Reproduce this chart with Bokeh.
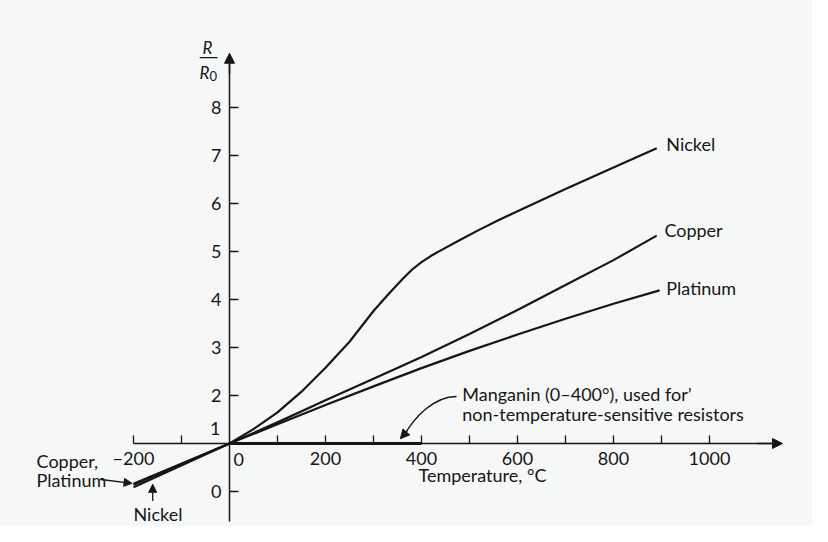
from bokeh.plotting import figure
from bokeh.models import LinearAxis, FixedTicker, Arrow, NormalHead, Label
from bokeh.embed import file_html
from bokeh.resources import INLINE

# ---- data ----
nickel_t = [-200, 0, 50, 100, 150, 200, 250, 300, 330, 360, 380, 400, 420, 445, 480, 520, 560, 600, 700, 800, 890]
nickel_r = [0.09, 1.0, 1.3, 1.65, 2.08, 2.58, 3.12, 3.76, 4.1, 4.42, 4.62, 4.78, 4.91, 5.05, 5.24, 5.45, 5.65, 5.84, 6.3, 6.75, 7.15]

copper_t = [-200, 0, 100, 200, 300, 398, 500, 600, 700, 800, 890]
copper_r = [0.14, 1.0, 1.44, 1.9, 2.35, 2.79, 3.28, 3.78, 4.3, 4.82, 5.33]

platinum_t = [-200, 0, 100, 200, 300, 400, 500, 600, 700, 800, 896]
platinum_r = [0.16, 1.0, 1.4, 1.8, 2.19, 2.57, 2.93, 3.27, 3.6, 3.91, 4.19]

manganin_t = [0, 400]
manganin_r = [1.0, 1.0]

x_ticks = [-200, -100, 100, 200, 300, 400, 500, 600, 700, 800, 900, 1000]
x_tick_labels = {-200: "\u2212200", 200: "200", 400: "400", 600: "600", 800: "800", 1000: "1000"}
y_ticks = [0, 2, 3, 4, 5, 6, 7, 8]

INK = "#161616"
BG = "#f6f7f7"
FONT = "Lato"

W, H = 812, 526
OFF = 0  # page offset of the figure as observed
# pixel mapping: x=0 at page px 229, 0.48 px/deg ; y=0 at page px 491, 48 px/unit
x0 = (OFF - 229) / 0.48
x1 = (OFF + W - 229) / 0.48
y1 = (491 - OFF) / 48
y0 = (491 - (OFF + H)) / 48

p = figure(width=W, height=H, x_range=(x0, x1), y_range=(y0, y1),
           x_axis_type=None, y_axis_type=None, min_border=0,
           output_backend="svg", toolbar_location=None)
p.outline_line_color = None
p.background_fill_color = BG
p.border_fill_color = BG

labels_override = {t: x_tick_labels.get(t, "") for t in x_ticks}
xaxis = LinearAxis(fixed_location=1, ticker=FixedTicker(ticks=x_ticks),
                   major_label_overrides=labels_override, bounds=(-200, 1145))
xaxis.major_tick_in = 8
xaxis.major_tick_out = 0
xaxis.minor_tick_in = 0
xaxis.minor_tick_out = 0
xaxis.major_label_standoff = 8
xaxis.major_label_text_font = FONT
xaxis.major_label_text_font_size = "18px"
xaxis.major_label_text_color = INK
xaxis.axis_line_color = INK
xaxis.axis_line_width = 1.5
xaxis.major_tick_line_color = INK
xaxis.major_tick_line_width = 1.3
p.add_layout(xaxis, "below")

yaxis = LinearAxis(fixed_location=0, ticker=FixedTicker(ticks=y_ticks), bounds=(-0.62, 9.0))
yaxis.major_tick_in = 9
yaxis.major_tick_out = 0
yaxis.minor_tick_in = 0
yaxis.minor_tick_out = 0
yaxis.major_label_standoff = 8
yaxis.major_label_text_font = FONT
yaxis.major_label_text_font_size = "18px"
yaxis.major_label_text_color = INK
yaxis.axis_line_color = INK
yaxis.axis_line_width = 1.5
yaxis.major_tick_line_color = INK
yaxis.major_tick_line_width = 1.3
p.add_layout(yaxis, "left")

# axis arrowheads
p.add_layout(Arrow(end=NormalHead(size=10, fill_color=INK, line_color=INK),
                   x_start=1100, y_start=1, x_end=1152, y_end=1, line_color=INK, line_width=1.5))
p.add_layout(Arrow(end=NormalHead(size=10, fill_color=INK, line_color=INK),
                   x_start=0, y_start=8.7, x_end=0, y_end=9.13, line_color=INK, line_width=1.5))

# curves
for t, r in [(nickel_t, nickel_r), (copper_t, copper_r), (platinum_t, platinum_r)]:
    p.line(t, r, line_color=INK, line_width=2.2, line_join="round")
p.line(manganin_t, manganin_r, line_color=INK, line_width=3)

def lab(x, y, text, size="18px", align="left", style="normal"):
    p.add_layout(Label(x=x, y=y, text=text, text_font=FONT, text_font_size=size,
                       text_align=align, text_baseline="middle", text_color=INK,
                       text_font_style=style))

# curve labels
lab(910, 7.25, "Nickel")
lab(906, 5.44, "Copper")
lab(910, 4.23, "Platinum")

# special tick labels
lab(19, 0.67, "0", align="center")
lab(-19, 1.31, "1", align="right")

# axis titles
lab(527, 0.35, "Temperature, \u00b0C", align="center")
lab(-46, 9.25, "R", size="17px", align="center", style="italic")
p.segment(x0=[-62], y0=[9.04], x1=[-25], y1=[9.04], line_color=INK, line_width=1.3)
lab(-52, 8.72, "R", size="17px", align="center", style="italic")
lab(-34, 8.66, "0", size="13px", align="center")

# Manganin annotation
lab(485, 2.04, "Manganin (0\u2013400\u00b0), used for\u2019")
lab(485, 1.625, "non-temperature-sensitive resistors")
p.bezier(x0=[473], y0=[1.98], x1=[362], y1=[1.14], cx0=[425], cy0=[1.98], cx1=[385], cy1=[1.55],
         line_color=INK, line_width=1.4)
p.add_layout(Arrow(end=NormalHead(size=9, fill_color=INK, line_color=INK),
                   x_start=370, y_start=1.26, x_end=356, y_end=1.10, line_color=INK, line_width=1.4))

# low-end annotations
lab(-402, 0.63, "Copper,")
lab(-402, 0.25, "Platinum")
p.add_layout(Arrow(end=NormalHead(size=8, fill_color=INK, line_color=INK),
                   x_start=-268, y_start=0.25, x_end=-203, y_end=0.17, line_color=INK, line_width=1.3))
lab(-200, -0.46, "Nickel")
p.add_layout(Arrow(end=NormalHead(size=8, fill_color=INK, line_color=INK),
                   x_start=-160, y_start=-0.2, x_end=-160, y_end=0.15, line_color=INK, line_width=1.3))

open("out.html", "w").write(file_html(p, INLINE))
